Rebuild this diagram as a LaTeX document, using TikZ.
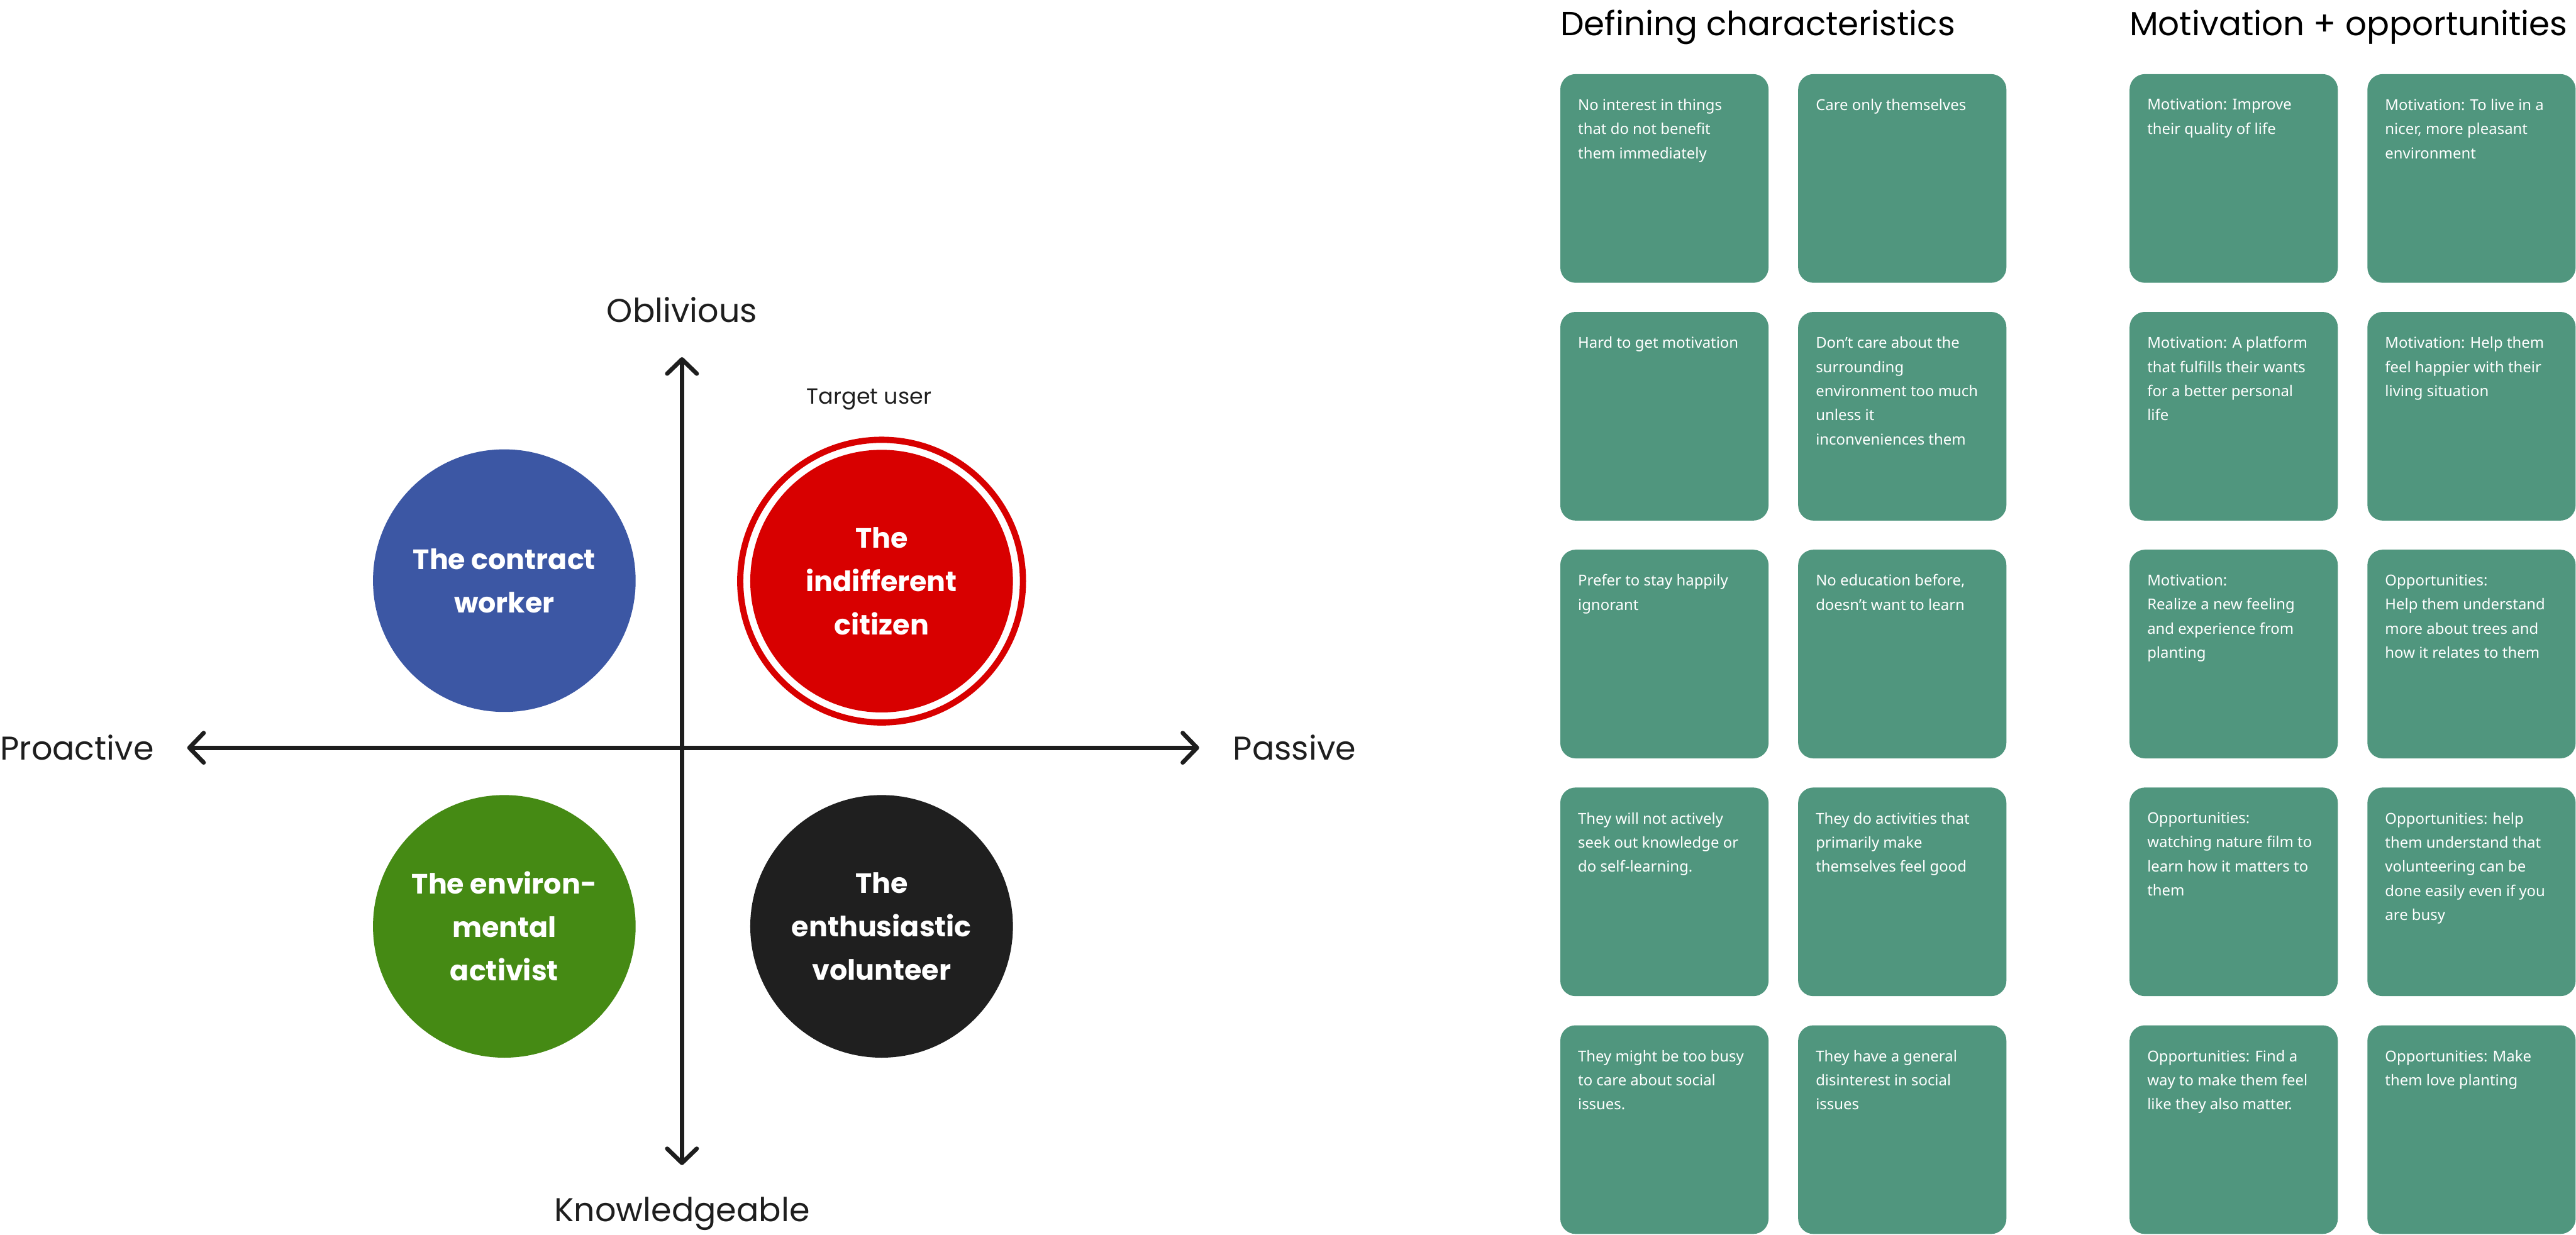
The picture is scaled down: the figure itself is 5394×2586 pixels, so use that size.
\documentclass[tikz,border=0pt]{standalone}
\usepackage{fontspec}
\setmainfont{Poppins}
\newfontfamily\cardfont{Noto Sans}
\usetikzlibrary{arrows.meta}
\definecolor{cardgreen}{HTML}{50967E}
\definecolor{axisc}{HTML}{1E1E1E}
\definecolor{pblue}{HTML}{3C57A4}
\definecolor{pred}{HTML}{D80000}
\definecolor{pgreen}{HTML}{458A14}
\definecolor{pblack}{HTML}{1F1F1F}
\newcommand\mycard[4]{%
  \node[card, anchor=north west] (#1) at (#2,#3) {};
  \node[cardtext, anchor=north west] (#1t) at ([xshift=37pt, yshift=-52pt]#1.north west) {#4};
}
\begin{document}
\begin{tikzpicture}[x=1pt,y=-1pt,
  axis/.style={line width=9pt, draw=axisc, line cap=round,
    {Straight Barb[length=30pt,width=62pt,round]}-{Straight Barb[length=30pt,width=62pt,round]}},
  biglabel/.style={inner sep=0pt, text=axisc, font=\fontsize{69}{84}\selectfont},
  persona/.style={circle, minimum size=550pt, inner sep=0pt, text=white, align=center,
    font=\fontsize{58.5}{91}\selectfont\bfseries},
  card/.style={fill=cardgreen, rounded corners=32pt, minimum width=436pt, minimum height=437pt, inner sep=0pt},
  cardtext/.style={inner sep=0pt, text=white, align=left, font=\cardfont\fontsize{31.5}{50.5}\selectfont},
  heading/.style={inner sep=0pt, anchor=base west, text=black, font=\fontsize{70}{84}\selectfont}
]
\useasboundingbox (0,0) rectangle (5394,2586);

% axes
\coordinate (top) at (1428,748);
\coordinate (bottom) at (1428,2440);
\coordinate (left) at (392,1566);
\coordinate (right) at (2511,1566);
\draw[axis] (bottom) -- (top);
\draw[axis] (left) -- (right);

\node[biglabel, anchor=base] (obl) at (1428,675) {Oblivious};
\node[biglabel, anchor=base] (know) at (1428,2558) {Knowledgeable};
\node[biglabel, anchor=base west] (pro) at (0,1592) {Proactive};
\node[biglabel, anchor=base west] (pas) at (2582,1592) {Passive};
\node[inner sep=0pt, anchor=base, text=axisc, font=\fontsize{46}{55}\selectfont] (target) at (1820,846) {Target user};

% personas
\node[persona, fill=pblue] (contract) at (1056,1216) {The contract\\worker};
\node[persona, fill=pred] (indiff) at (1846,1217) {The\\indifferent\\citizen};
\draw[pred, line width=13pt] (indiff.center) circle[radius=296pt];
\node[persona, fill=pgreen] (activist) at (1056,1940) {The environ-\\mental\\activist};
\node[persona, fill=pblack] (volunteer) at (1846,1940) {The\\enthusiastic\\volunteer};

% headings
\node[heading] (h1) at (3267,75) {Defining characteristics};
\node[heading] (h2) at (4459,75) {Motivation + opportunities};

% cards column 1
\mycard{a1}{3267}{155}{No interest in things\\that do not benefit\\them immediately}
\mycard{a2}{3267}{653}{Hard to get motivation}
\mycard{a3}{3267}{1151}{Prefer to stay happily\\ignorant}
\mycard{a4}{3267}{1649}{They will not actively\\seek out knowledge or\\do self-learning.}
\mycard{a5}{3267}{2147}{They might be too busy\\to care about social\\issues.}
% column 2
\mycard{b1}{3765}{155}{Care only themselves}
\mycard{b2}{3765}{653}{Don’t care about the\\surrounding\\environment too much\\unless it\\inconveniences them}
\mycard{b3}{3765}{1151}{No education before,\\doesn’t want to learn}
\mycard{b4}{3765}{1649}{They do activities that\\primarily make\\themselves feel good}
\mycard{b5}{3765}{2147}{They have a general\\disinterest in social\\issues}
% column 3
\mycard{c1}{4459}{155}{Motivation: Improve\\their quality of life}
\mycard{c2}{4459}{653}{Motivation: A platform\\that fulfills their wants\\for a better personal\\life}
\mycard{c3}{4459}{1151}{Motivation:\\Realize a new feeling\\and experience from\\planting}
\mycard{c4}{4459}{1649}{Opportunities:\\watching nature film to\\learn how it matters to\\them}
\mycard{c5}{4459}{2147}{Opportunities: Find a\\way to make them feel\\like they also matter.}
% column 4
\mycard{d1}{4957}{155}{Motivation: To live in a\\nicer, more pleasant\\environment}
\mycard{d2}{4957}{653}{Motivation: Help them\\feel happier with their\\living situation}
\mycard{d3}{4957}{1151}{Opportunities:\\Help them understand\\more about trees and\\how it relates to them}
\mycard{d4}{4957}{1649}{Opportunities: help\\them understand that\\volunteering can be\\done easily even if you\\are busy}
\mycard{d5}{4957}{2147}{Opportunities: Make\\them love planting}
\end{tikzpicture}
\end{document}
